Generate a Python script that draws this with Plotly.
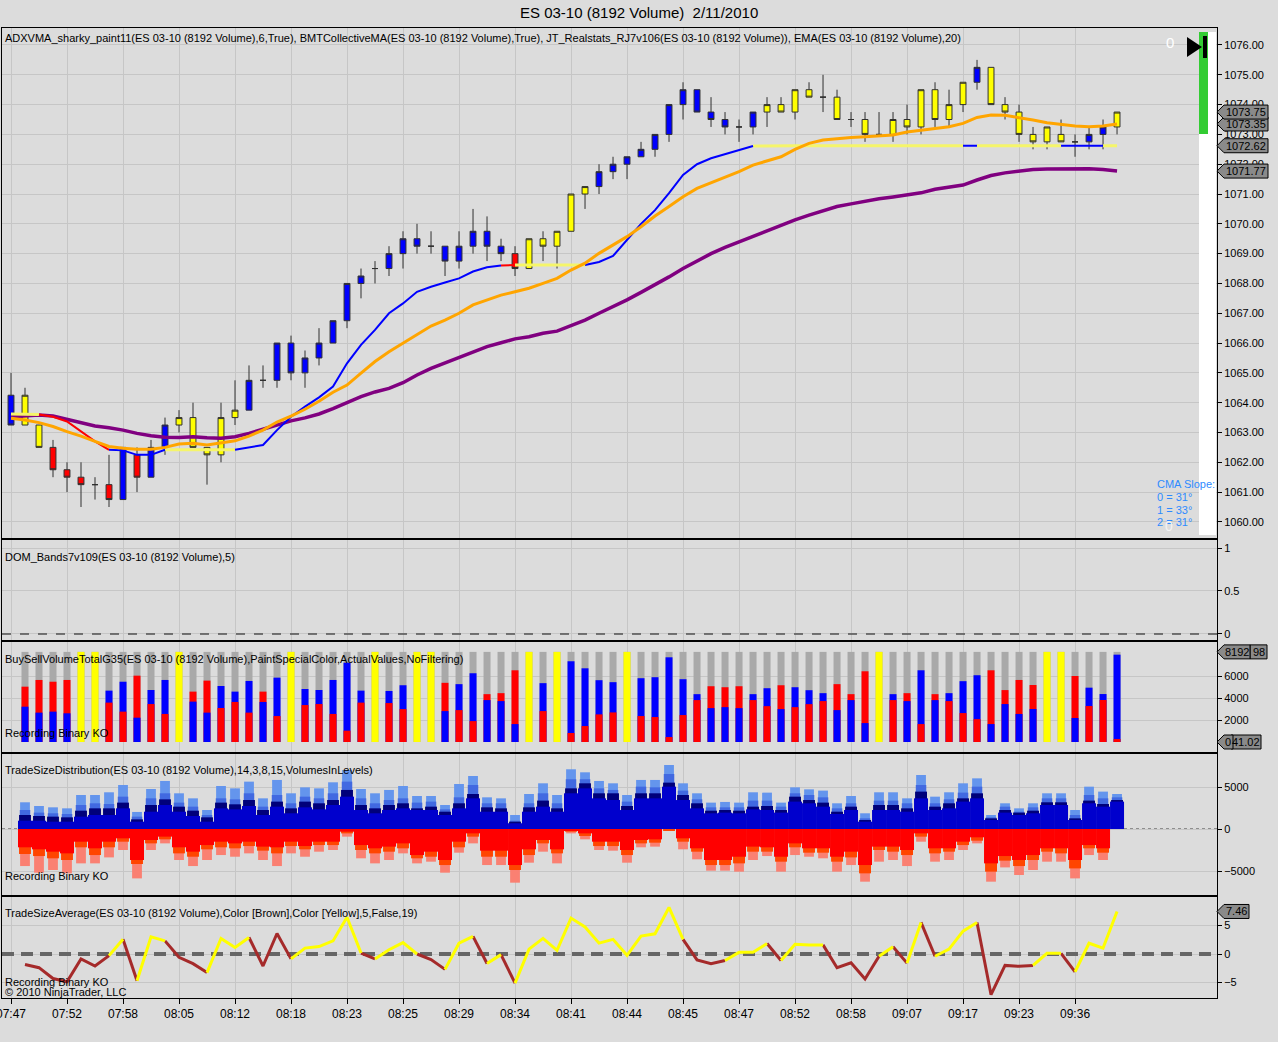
import plotly.graph_objects as go
from plotly.subplots import make_subplots

# ---------------------------------------------------------------------------
# data, 2/11/2010 (one entry per bar)
# ---------------------------------------------------------------------------
time_labels = ["07:47", "07:52", "07:58", "08:05", "08:12", "08:18", "08:23", "08:25",
               "08:29", "08:34", "08:41", "08:44", "08:45", "08:47", "08:52", "08:58",
               "09:07", "09:17", "09:23", "09:36"]
label_step = 4  # a time label every 4 bars

opens = [1064.25, 1063.25, 1063.25, 1062.5, 1061.75, 1061.5, 1061.25, 1061.25, 1060.75, 1062.25,
         1061.5, 1062.5, 1063.25, 1063.5, 1062.5, 1062.25, 1063.5, 1063.75, 1064.75, 1064.75,
         1066.0, 1065.0, 1065.5, 1066.0, 1066.75, 1068.0, 1068.5, 1068.5, 1069.0, 1069.5,
         1069.25, 1069.25, 1068.75, 1069.25, 1069.75, 1069.25, 1069.0, 1068.5, 1069.5, 1069.25,
         1069.75, 1071.0, 1071.25, 1071.75, 1072.0, 1072.25, 1072.5, 1073.0, 1074.0, 1074.5,
         1073.75, 1073.5, 1073.25, 1073.25, 1073.75, 1074.0, 1073.75, 1074.5, 1074.25, 1074.25,
         1073.5, 1073.5, 1073.0, 1073.0, 1073.5, 1073.25, 1074.5, 1073.5, 1074.0, 1074.75,
         1075.25, 1074.0, 1073.75, 1073.0, 1072.75, 1073.0, 1072.75, 1072.75, 1073.0, 1073.25]
highs = [1065.0, 1064.5, 1063.25, 1062.75, 1062.0, 1062.0, 1061.5, 1062.25, 1062.5, 1062.5,
         1062.75, 1063.5, 1063.75, 1064.0, 1062.5, 1064.0, 1064.75, 1065.25, 1065.25, 1066.0,
         1066.25, 1065.75, 1066.5, 1066.75, 1068.0, 1068.5, 1068.75, 1069.25, 1069.75, 1070.0,
         1069.75, 1069.25, 1069.75, 1070.5, 1070.25, 1069.5, 1069.25, 1069.5, 1069.75, 1069.75,
         1071.0, 1071.25, 1072.0, 1072.25, 1072.25, 1072.75, 1073.0, 1074.0, 1074.75, 1074.5,
         1074.25, 1073.75, 1073.5, 1073.75, 1074.25, 1074.25, 1074.5, 1074.75, 1075.0, 1074.5,
         1073.75, 1073.75, 1073.75, 1073.75, 1074.0, 1074.5, 1074.75, 1074.5, 1074.75, 1075.5,
         1075.25, 1074.25, 1074.0, 1073.25, 1073.25, 1073.5, 1073.0, 1073.25, 1073.5, 1073.75]
lows = [1063.25, 1063.25, 1062.5, 1061.5, 1061.0, 1060.5, 1060.75, 1060.5, 1060.75, 1061.0,
        1061.5, 1062.25, 1063.0, 1062.5, 1061.25, 1062.0, 1063.25, 1063.75, 1064.5, 1064.5,
        1064.75, 1064.5, 1065.25, 1066.0, 1066.5, 1067.5, 1068.0, 1068.25, 1068.5, 1069.0,
        1069.0, 1068.25, 1068.5, 1069.0, 1068.75, 1068.75, 1068.25, 1068.5, 1068.75, 1068.5,
        1069.75, 1070.5, 1071.0, 1071.5, 1071.5, 1072.25, 1072.25, 1072.75, 1073.5, 1073.75,
        1073.25, 1073.0, 1072.75, 1073.0, 1073.25, 1073.75, 1073.5, 1074.25, 1073.75, 1073.5,
        1073.25, 1072.75, 1073.0, 1072.75, 1073.0, 1073.0, 1073.25, 1073.25, 1073.75, 1074.5,
        1074.0, 1073.5, 1072.75, 1072.5, 1072.5, 1072.75, 1072.25, 1072.5, 1072.5, 1073.0]
closes = [1063.25, 1064.25, 1062.5, 1061.75, 1061.5, 1061.25, 1061.25, 1060.75, 1062.5, 1061.5,
          1062.5, 1063.25, 1063.5, 1062.5, 1062.25, 1063.5, 1063.75, 1064.75, 1064.75, 1066.0,
          1065.0, 1065.5, 1066.0, 1066.75, 1068.0, 1068.25, 1068.5, 1069.0, 1069.5, 1069.25,
          1069.25, 1068.75, 1069.25, 1069.75, 1069.25, 1069.0, 1068.5, 1069.5, 1069.25, 1069.75,
          1071.0, 1071.25, 1071.75, 1072.0, 1072.25, 1072.5, 1073.0, 1074.0, 1074.5, 1073.75,
          1073.5, 1073.25, 1073.25, 1073.75, 1074.0, 1073.75, 1074.5, 1074.25, 1074.25, 1073.5,
          1073.5, 1073.0, 1073.0, 1073.5, 1073.25, 1074.5, 1073.5, 1074.0, 1074.75, 1075.25,
          1074.0, 1073.75, 1073.0, 1072.75, 1073.25, 1072.75, 1072.75, 1073.0, 1073.25, 1073.75]
# paint colour of each bar (B blue, R red, Y yellow) - same trend codes as the ADXVMA line
bar_paint = list("BYYRRRRRBR" "BBYYYYYBBB" "BBBBBBBBBB" "BBBBBBRYYY" "YYBBBBBBBB"
                 "BBBBYYYYYY" "YYYYYYYYYB" "YYYYYYBBBY")

adxvma = [1063.62, 1063.62, 1063.60, 1063.53, 1063.37, 1063.03, 1062.70, 1062.42, 1062.40, 1062.25,
          1062.25, 1062.42, 1062.42, 1062.42, 1062.42, 1062.42, 1062.42, 1062.50, 1062.58, 1063.08,
          1063.53, 1063.87, 1064.18, 1064.54, 1065.32, 1065.94, 1066.44, 1067.00, 1067.33, 1067.72,
          1067.89, 1068.03, 1068.17, 1068.40, 1068.54, 1068.60, 1068.62, 1068.62, 1068.62, 1068.62,
          1068.62, 1068.62, 1068.72, 1068.92, 1069.46, 1070.00, 1070.46, 1071.03, 1071.64, 1072.00,
          1072.20, 1072.33, 1072.48, 1072.61, 1072.62, 1072.62, 1072.62, 1072.62, 1072.62, 1072.62,
          1072.62, 1072.62, 1072.62, 1072.62, 1072.62, 1072.62, 1072.62, 1072.62, 1072.62, 1072.62,
          1072.62, 1072.62, 1072.62, 1072.62, 1072.62, 1072.62, 1072.62, 1072.62, 1072.62, 1072.62]
adxvma_trend = list("YYYRRRRRBB" "BBYYYYYBBB" "BBBBBBBBBB" "BBBBBBRYYY" "YYBBBBBBBB"
                    "BBBBYYYYYY" "YYYYYYYYYB" "YYYYYYBBBY")

ema20 = [1063.48, 1063.42, 1063.33, 1063.20, 1063.03, 1062.88, 1062.70, 1062.53, 1062.47, 1062.44,
         1062.44, 1062.50, 1062.61, 1062.64, 1062.58, 1062.64, 1062.72, 1062.88, 1063.08, 1063.35,
         1063.55, 1063.78, 1064.05, 1064.35, 1064.59, 1064.99, 1065.38, 1065.71, 1065.99, 1066.27,
         1066.57, 1066.77, 1067.00, 1067.28, 1067.45, 1067.61, 1067.72, 1067.84, 1068.00, 1068.17,
         1068.45, 1068.68, 1069.01, 1069.29, 1069.57, 1069.90, 1070.26, 1070.58, 1070.91, 1071.19,
         1071.38, 1071.58, 1071.75, 1071.97, 1072.12, 1072.25, 1072.50, 1072.70, 1072.81, 1072.86,
         1072.90, 1072.92, 1072.95, 1072.98, 1073.08, 1073.15, 1073.20, 1073.26, 1073.37, 1073.57,
         1073.65, 1073.64, 1073.57, 1073.48, 1073.39, 1073.33, 1073.28, 1073.26, 1073.28, 1073.35]

collective_ma = [1063.53, 1063.57, 1063.59, 1063.55, 1063.44, 1063.33, 1063.22, 1063.16, 1063.08, 1062.97,
                 1062.89, 1062.84, 1062.83, 1062.86, 1062.82, 1062.81, 1062.86, 1062.97, 1063.11, 1063.23,
                 1063.39, 1063.49, 1063.62, 1063.80, 1064.00, 1064.20, 1064.36, 1064.48, 1064.67, 1064.93,
                 1065.15, 1065.34, 1065.52, 1065.71, 1065.88, 1066.01, 1066.14, 1066.21, 1066.33, 1066.40,
                 1066.57, 1066.77, 1067.00, 1067.22, 1067.45, 1067.70, 1067.95, 1068.22, 1068.50, 1068.76,
                 1069.00, 1069.21, 1069.40, 1069.59, 1069.77, 1069.95, 1070.13, 1070.29, 1070.44, 1070.58,
                 1070.67, 1070.76, 1070.84, 1070.90, 1070.97, 1071.04, 1071.16, 1071.23, 1071.30, 1071.47,
                 1071.62, 1071.71, 1071.78, 1071.82, 1071.84, 1071.85, 1071.86, 1071.85, 1071.82, 1071.77]
cma_slopes = [31, 33, 31]

# BuySellVolume: every bar is 8192 contracts; special bars are painted yellow
bar_volume = 8192
buy_vol = [None, 3210, 2670, 2760, 2610, None, None, 4670, 5480, 2210,
           4730, 5640, None, 3670, 2670, 5090, 4580, 5550, 3640, 5850,
           None, 4820, 4730, 5640, 7210, 4670, None, 4640, 5160, None,
           None, 2810, 5260, 6250, 3810, 3720, 1630, None, 5350, None,
           7340, 6700, 5620, 5440, None, 5800, 5890, 7700, 5710, 4350,
           3080, 3170, 3080, 4350, 4890, 2990, 4980, 4710, 4440, 2900,
           3810, 1720, None, 4350, 3720, 6520, 3810, 4440, 5530, 6070,
           1630, 3450, 2550, 3000, None, None, 2180, 4940, 4360, 7940]
sell_vol = [None, 5030, 5640, 5480, 5640, None, None, 3580, 2760, 6030,
            3450, 2550, None, 4580, 5580, 3090, 3640, 2670, 4580, 2360,
            None, 3360, 3450, 2550, 1030, 3580, None, 3540, 2990, None,
            None, 5380, 2900, 1900, 4350, 4440, 6520, None, 2810, None,
            820, 1450, 2510, 2690, None, 2360, 2270, 450, 2450, 3810,
            5070, 4980, 5070, 3810, 3260, 5160, 3170, 3440, 3720, 5260,
            4350, 6430, None, 3810, 4440, 1630, 4350, 3720, 2630, 2080,
            6520, 4720, 5640, 5180, None, None, 6000, 3270, 3820, 270]
special_bars = [5, 6, 12, 20, 26, 29, 30, 37, 39, 44, 62, 74, 75]

# TradeSizeDistribution: cumulative level tops (buy side up, sell side down)
tsd_buy_base = [0, 990, 990, 870, 870, 1470, 1670, 1670, 2460, 870,
                2060, 2860, 2060, 1550, 870, 2460, 2340, 2740, 1670, 2660,
                1870, 2580, 2340, 2860, 3850, 2260, 1870, 2260, 2460, 2260,
                2260, 1670, 2460, 3650, 2060, 2060, 680, 2060, 2660, 2060,
                4250, 4840, 3650, 3450, 2260, 3650, 3650, 5040, 3450, 2460,
                1870, 1950, 1870, 2340, 2260, 1950, 3260, 3060, 2660, 1790,
                2260, 870, 2260, 2260, 2060, 3650, 2260, 2460, 3260, 3650,
                1070, 1950, 1670, 1870, 2860, 2860, 1070, 3060, 2660, 3260]
tsd_buy_l2 = [0, 1670, 1550, 1470, 1390, 2180, 2460, 2460, 3140, 1150,
              2860, 3530, 2660, 2180, 1390, 3140, 2940, 3450, 2260, 3260,
              2460, 3260, 3060, 3450, 4650, 2860, 2460, 2860, 3060, 2460,
              2660, 2060, 3060, 4170, 2580, 2460, 870, 2580, 3380, 2460,
              4840, 5440, 4250, 4250, 2740, 4250, 4250, 5520, 4050, 3060,
              2180, 2260, 2180, 2660, 2740, 2260, 3850, 3450, 3140, 2060,
              2660, 1070, 2860, 2860, 2460, 4450, 2660, 3060, 3650, 4250,
              1270, 2260, 1950, 2180, 3180, 3180, 1270, 3380, 2980, 3450]
tsd_buy_l3 = [0, 2260, 1950, 1870, 1790, 2860, 3060, 2980, 3850, 1470,
              3650, 4250, 3140, 2660, 1670, 3650, 3530, 4250, 2660, 4050,
              3060, 3850, 3650, 4250, 5640, 3650, 3060, 3450, 3650, 3140,
              3260, 2340, 3770, 5240, 3060, 3060, 990, 3060, 4250, 3060,
              5920, 5920, 4840, 4650, 3260, 5040, 4960, 6550, 4570, 3530,
              2580, 2580, 2580, 3380, 3380, 2660, 4250, 4050, 3770, 2460,
              3060, 1270, 3380, 3380, 3060, 5240, 3060, 3530, 4330, 5040,
              1390, 2660, 2060, 2580, 3650, 3650, 1670, 4050, 3650, 3770]
tsd_buy_top = [0, 3180, 2740, 2580, 2460, 4050, 4050, 4370, 5240, 2030,
               4760, 5720, 4250, 3650, 2260, 5120, 4840, 5640, 3650, 5840,
               4250, 4960, 4840, 5560, 7030, 4760, 4250, 4650, 5120, 3930,
               3930, 2860, 5360, 6310, 3770, 3650, 1670, 4170, 5440, 4050,
               7110, 6750, 5720, 5440, 4050, 5840, 5840, 7620, 5440, 4250,
               3140, 3220, 3140, 4370, 4330, 3140, 4960, 4720, 4570, 3060,
               3930, 1870, 4370, 4370, 3650, 6430, 3850, 4370, 5440, 6030,
               1670, 3060, 2460, 3060, 4250, 4250, 2260, 5040, 4450, 4170]
tsd_sell_base = [0, 2180, 2420, 2700, 2900, 1510, 2300, 1510, 1110, 3690,
                 1310, 910, 2180, 2700, 1910, 1510, 1710, 1510, 2100, 2180,
                 1510, 2030, 1510, 1510, 320, 1910, 2300, 2100, 1710, 3100,
                 2700, 3690, 1510, 520, 2580, 2580, 4290, 2420, 1310, 2420,
                 120, 520, 1510, 1510, 2500, 1310, 1230, 0, 1110, 2300,
                 3690, 3690, 3300, 2100, 2180, 3300, 1710, 2300, 2300, 3300,
                 2700, 4290, 2100, 2100, 2500, 520, 2300, 2300, 1510, 990,
                 4090, 3220, 3690, 3100, 2300, 2300, 3690, 1910, 2300, 0]
tsd_sell_l2 = [0, 2980, 3220, 3490, 3690, 2180, 3100, 2180, 1510, 4170,
               1710, 1230, 2900, 3300, 2420, 2180, 2300, 2030, 2580, 2900,
               2030, 2420, 1910, 1910, 520, 2500, 2900, 2700, 2300, 3490,
               3300, 4290, 2180, 910, 3300, 3300, 4880, 3100, 1710, 2900,
               320, 830, 2030, 2030, 3100, 1710, 1630, 120, 1510, 2700,
               4290, 4290, 4090, 2700, 2700, 3890, 2180, 2820, 2820, 3890,
               3380, 5280, 2500, 2700, 3100, 910, 2900, 2700, 1910, 1390,
               5080, 3770, 4410, 3690, 2700, 2900, 4690, 2300, 2820, 0]
tsd_sell_top = [0, 4410, 5200, 4880, 5280, 4090, 4090, 3380, 2500, 5880,
                2500, 1710, 3690, 4410, 3690, 3100, 3300, 2900, 3690, 4410,
                2900, 3300, 2700, 2500, 910, 3490, 4090, 3690, 2900, 4090,
                3890, 5200, 2820, 1710, 4290, 4290, 6390, 4010, 2700, 4090,
                520, 1230, 2500, 2580, 4010, 2180, 2100, 240, 2420, 3610,
                4960, 4960, 5080, 3690, 3220, 5080, 3100, 3300, 3490, 5080,
                4290, 6270, 3890, 3690, 4410, 1510, 3890, 3690, 2500, 1710,
                6270, 4570, 5480, 4880, 3890, 3890, 5880, 3100, 3690, 0]

# TradeSizeAverage with its brown / yellow paint per bar
trade_size_avg = [None, -1.83, -2.4, -4.3, -4.86, -0.86, -2.1, -0.29, 2.6, -4.7,
                  3.0, 2.3, -0.57, -1.7, -3.26, 2.74, 1.14, 2.9, -2.1, 3.6,
                  -0.86, 1.03, 1.3, 2.3, 6.46, 0.17, -0.86, 0.74, 2.0, 0.0,
                  -0.97, -2.7, 1.9, 3.1, -1.66, -0.11, -5.1, 0.86, 2.74, 0.63,
                  6.3, 4.74, 1.9, 2.57, -0.23, 3.14, 3.54, 8.17, 2.57, -1.03,
                  -1.71, -1.14, 0.29, 0.29, 1.83, -1.14, 1.71, 1.6, 1.6, -2.4,
                  -1.54, -4.4, -0.4, 1.26, -1.6, 5.54, -0.4, 0.86, 4.0, 5.54,
                  -7.14, -2.0, -2.17, -2.0, 0.11, 0.11, -3.14, 1.89, 1.03, 7.46]
tsa_paint = list("-bbbbbbbyb" "yybbbyyybb" "byyyyybyyy" "bbyybybyyy" "yyyyyyyyyb"
                 "bbyyybyyyb" "bbbybybyyy" "bbbbyybyyy")

# ---------------------------------------------------------------------------
W, H = 1278, 1042
ML, MR, MT, MB = 2, 61, 28, 44
PW, PH = W - ML - MR, H - MT - MB
X_RANGE = [-0.643, 86.14]
BG = "#DCDCDC"
GRID = "#C6C6C6"
FONT = "Liberation Sans, Arial, sans-serif"
TAG = "#8A8A8A"

PAINT = {"B": "#0000FF", "R": "#FF0000", "Y": "#FFFF00"}
ADX_LINE = {"B": ("#0000FF", 2), "R": ("#FF0000", 2), "Y": ("#F5F56A", 3)}
TSA_LINE = {"b": "#A52A2A", "y": "#FFFF00"}

fig = make_subplots(rows=5, cols=1, shared_xaxes=True, vertical_spacing=2 / PH,
                    row_heights=[510, 100, 110, 141, 101])


def colored_runs(values, codes, start):
    """Split a line into same-colour runs; each run starts on the previous point."""
    runs, prev = {}, None
    for i in range(start + 1, len(values)):
        c = codes[i]
        xs, ys = runs.setdefault(c, ([], []))
        if c != prev:
            if xs:
                xs.append(None)
                ys.append(None)
            xs.append(i - 1)
            ys.append(values[i - 1])
        xs.append(i)
        ys.append(values[i])
        prev = c
    return runs


# --- price panel -----------------------------------------------------------
for code, fill in PAINT.items():
    idx = [i for i, c in enumerate(bar_paint) if c == code]
    style = dict(fillcolor=fill, line=dict(color="#303030", width=1))
    fig.add_trace(go.Candlestick(
        x=idx, open=[opens[i] for i in idx], high=[highs[i] for i in idx],
        low=[lows[i] for i in idx], close=[closes[i] for i in idx],
        increasing=style, decreasing=style, whiskerwidth=0, hoverinfo="skip"
    ), row=1, col=1)

bars = list(range(len(closes)))
fig.add_trace(go.Scatter(x=bars, y=collective_ma, mode="lines",
                         line=dict(color="#800080", width=3.5), hoverinfo="skip"), row=1, col=1)
for code, (xs, ys) in colored_runs(adxvma, adxvma_trend, 0).items():
    col, wid = ADX_LINE[code]
    fig.add_trace(go.Scatter(x=xs, y=ys, mode="lines", line=dict(color=col, width=wid),
                             hoverinfo="skip"), row=1, col=1)
fig.add_trace(go.Scatter(x=bars, y=ema20, mode="lines",
                         line=dict(color="#FFA500", width=3), hoverinfo="skip"), row=1, col=1)

# --- DOM bands panel: only its zero line --------------------------------------
fig.add_trace(go.Scatter(x=X_RANGE, y=[0, 0], mode="lines",
                         line=dict(color="#505050", width=1.5, dash="dash"), hoverinfo="skip"),
              row=2, col=1)

# --- buy / sell volume panel ------------------------------------------------
vol_idx = [i for i in bars if buy_vol[i] is not None]
fig.add_trace(go.Bar(x=bars[1:], y=[bar_volume] * (len(bars) - 1), width=0.5,
                     marker=dict(color="#A9A9A9", line_width=0), hoverinfo="skip"), row=3, col=1)
fig.add_trace(go.Bar(x=vol_idx, y=[max(buy_vol[i], sell_vol[i]) for i in vol_idx], width=0.5,
                     marker=dict(color=["#0000FF" if buy_vol[i] > sell_vol[i] else "#FF0000" for i in vol_idx],
                                 line_width=0), hoverinfo="skip"), row=3, col=1)
fig.add_trace(go.Bar(x=vol_idx, y=[min(buy_vol[i], sell_vol[i]) for i in vol_idx], width=0.5,
                     marker=dict(color=["#FF0000" if buy_vol[i] > sell_vol[i] else "#0000FF" for i in vol_idx],
                                 line_width=0), hoverinfo="skip"), row=3, col=1)
fig.add_trace(go.Bar(x=special_bars, y=[bar_volume] * len(special_bars), width=0.5,
                     marker=dict(color="#FFFF00", line_width=0), hoverinfo="skip"), row=3, col=1)

# --- trade size distribution panel ---------------------------------------------
levels = [(tsd_buy_top, 1, "#6495ED", 0.7), (tsd_buy_l3, 1, "#4169E1", 0.75),
          (tsd_buy_l2, 1, "#00007A", 0.85), (tsd_buy_base, 1, "#0000CD", 1.0),
          (tsd_sell_top, -1, "#FA8072", 0.7), (tsd_sell_l2, -1, "#FF4500", 0.85),
          (tsd_sell_base, -1, "#FF0000", 1.0)]
for vals, sign, col, wid in levels:
    fig.add_trace(go.Bar(x=bars[1:], y=[sign * v for v in vals[1:]], width=wid,
                         marker=dict(color=col, line_width=0), hoverinfo="skip"), row=4, col=1)

# --- trade size average panel ------------------------------------------------
fig.add_trace(go.Scatter(x=X_RANGE, y=[0, 0], mode="lines",
                         line=dict(color="#666666", width=4, dash="12px,7px"), hoverinfo="skip"),
              row=5, col=1)
for code, (xs, ys) in colored_runs(trade_size_avg, tsa_paint, 1).items():
    fig.add_trace(go.Scatter(x=xs, y=ys, mode="lines", line=dict(color=TSA_LINE[code], width=3),
                             hoverinfo="skip"), row=5, col=1)

# --- axes ---------------------------------------------------------------------
tick_pos = [k * label_step for k in range(len(time_labels))]
fig.update_xaxes(range=X_RANGE, tickvals=tick_pos, ticktext=time_labels,
                 showgrid=True, gridcolor=GRID, gridwidth=1, zeroline=False,
                 showline=True, mirror=True, linecolor="black", linewidth=1,
                 rangeslider_visible=False, ticks="", automargin=False)
fig.update_xaxes(row=5, col=1, ticks="outside", ticklen=5, tickcolor="black",
                 ticklabeloverflow="allow", tickfont=dict(size=12, color="black"))
fig.update_yaxes(side="right", showgrid=True, gridcolor=GRID, zeroline=False,
                 showline=True, mirror=True, linecolor="black", linewidth=1,
                 ticks="outside", ticklen=4, tickcolor="black", automargin=False,
                 tickfont=dict(size=11, color="black"))
fig.update_yaxes(row=1, col=1, range=[1059.46, 1076.57], dtick=1, tickformat=".2f")
fig.update_yaxes(row=2, col=1, range=[-0.07, 1.093], tickvals=[0, 0.5, 1], ticktext=["0", "0.5", "1"])
fig.update_yaxes(row=3, col=1, range=[-909, 9091], tickvals=[2000, 4000, 6000])
fig.update_yaxes(row=4, col=1, range=[-7857, 8929], tickvals=[-5000, 0, 5000])
fig.update_yaxes(row=5, col=1, range=[-7.72, 10.0], tickvals=[-5, 0, 5])

fig.update_layout(width=W, height=H, margin=dict(l=ML, r=MR, t=MT, b=MB),
                  paper_bgcolor=BG, plot_bgcolor=BG, showlegend=False,
                  barmode="overlay", boxgap=0.4,
                  font=dict(family=FONT, size=11, color="black"))

# dotted zero line of the trade size panel, hidden behind its bars
fig.add_shape(type="line", xref="paper", x0=0, x1=1, yref="y4", y0=0, y1=0,
              line=dict(color="#404040", width=1, dash="dot"), layer="below")


def px_x(px):
    return (px - ML) / PW


def px_y(py):
    return 1 - (py - MT) / PH


def note(text, px, py, size=11, color="black", anchor="left"):
    fig.add_annotation(text=text, x=px_x(px), y=px_y(py), xref="paper", yref="paper",
                       xanchor=anchor, yanchor="middle", showarrow=False,
                       font=dict(size=size, color=color))


def tag(text, axis, value, x0, x1, arrow=True):
    if arrow:
        path = f"M {x0},0 L {x0 + 7},7 L {x1},7 L {x1},-7 L {x0 + 7},-7 Z"
    else:
        path = f"M {x0},7 L {x1},7 L {x1},-7 L {x0},-7 Z"
    fig.add_shape(type="path", xref="paper", yref=axis, xsizemode="pixel", ysizemode="pixel",
                  xanchor=1, yanchor=value, path=path, fillcolor=TAG,
                  line=dict(color="black", width=1), layer="above")
    fig.add_annotation(text=text, xref="paper", yref=axis, x=1, y=value,
                       xshift=(x0 + x1) / 2 + (3 if arrow else 0), showarrow=False,
                       xanchor="center", yanchor="middle", font=dict(size=11, color="black"))


# title and indicator captions
note("ES 03-10 (8192 Volume)\u00a0 2/11/2010", 639, 12, size=15, anchor="center")
note("ADXVMA_sharky_paint11(ES 03-10 (8192 Volume),6,True), BMTCollectiveMA(ES 03-10 (8192 Volume),True), "
     "JT_Realstats_RJ7v106(ES 03-10 (8192 Volume)), EMA(ES 03-10 (8192 Volume),20)", 3, 38)
note("DOM_Bands7v109(ES 03-10 (8192 Volume),5)", 3, 557)
note("BuySellVolumeTotalG35(ES 03-10 (8192 Volume),PaintSpecialColor,ActualValues,NoFiltering)", 3, 659)
note("Recording Binary KO", 3, 733)
note("TradeSizeDistribution(ES 03-10 (8192 Volume),14,3,8,15,VolumesInLevels)", 3, 770)
note("Recording Binary KO", 3, 876)
note("TradeSizeAverage(ES 03-10 (8192 Volume),Color [Brown],Color [Yellow],5,False,19)", 3, 913)
note("Recording Binary KO", 3, 982)
note("\u00a9 2010 NinjaTrader, LLC", 3, 992)

# CMA slope box
note("CMA Slope:", 1155, 484, color="#2E8BFF")
for k, s in enumerate(cma_slopes):
    note(f"{k} = {s}\u00b0", 1155, 497 + 12.5 * k, color="#2E8BFF")

# bar-progress strip on the right of the price panel
fig.add_shape(type="rect", xref="paper", yref="paper", x0=px_x(1199), x1=px_x(1216),
              y0=px_y(535), y1=px_y(32), fillcolor="#FFFFFF", line_width=0)
fig.add_shape(type="rect", xref="paper", yref="paper", x0=px_x(1199), x1=px_x(1208),
              y0=px_y(134), y1=px_y(32), fillcolor="#33CC33", line_width=0)
fig.add_shape(type="path", xref="paper", yref="paper",
              path=f"M {px_x(1187)},{px_y(37)} L {px_x(1202)},{px_y(47)} L {px_x(1187)},{px_y(57)} Z",
              fillcolor="black", line_width=0)
fig.add_shape(type="rect", xref="paper", yref="paper", x0=px_x(1203), x1=px_x(1207),
              y0=px_y(58), y1=px_y(36), fillcolor="black", line_width=0)
note("0", 1170, 43, size=15, color="white", anchor="center")
note("0", 1169, 526, size=14, color="#F4F4F4", anchor="center")

# value tags on the right axes
tag(f"{collective_ma[-1]:.2f}", "y", collective_ma[-1], 0, 51)
tag(f"{adxvma[-1]:.2f}", "y", adxvma[-1], 0, 51)
tag(f"{ema20[-1]:.2f}", "y", ema20[-1], 0, 51)
tag(f"{closes[-1]:.2f}", "y", closes[-1], 0, 51)
tag("98", "y3", bar_volume, 33, 50, arrow=False)
tag(f"{bar_volume}", "y3", bar_volume, 0, 33)
tag("41.02", "y3", 0, 14, 44, arrow=False)
tag("0", "y3", 0, 0, 16)
tag(f"{trade_size_avg[-1]:.2f}", "y5", trade_size_avg[-1], 0, 32)

# the page's default 8px body margin would shift the whole chart; drop it
fig.write_html("out.html", config={"displayModeBar": False},
               post_script="document.body.style.margin='0';")
